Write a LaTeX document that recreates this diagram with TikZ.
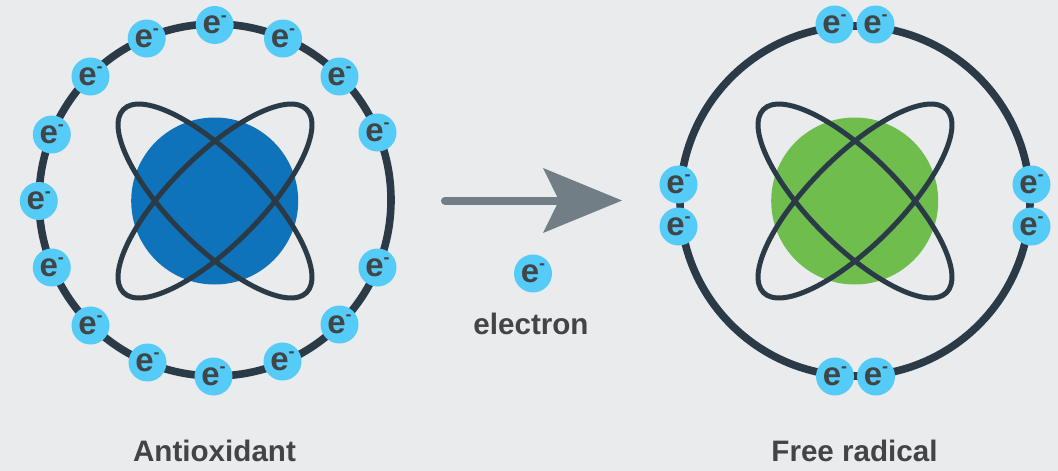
\documentclass[tikz,border=0pt]{standalone}
\usepackage{fontspec}
\setmainfont{Liberation Sans}
\definecolor{bgc}{HTML}{E9EBED}
\definecolor{ringc}{HTML}{2A3B47}
\definecolor{elc}{HTML}{55CBF7}
\definecolor{txtc}{HTML}{424548}
\definecolor{bluec}{HTML}{0F73BC}
\definecolor{greenc}{HTML}{6FBE4D}
\definecolor{arrc}{HTML}{717E85}
\tikzset{
  elec/.style={circle,fill=elc,draw=none,minimum size=38pt,inner sep=0pt,text=txtc,font=\fontsize{33}{33}\selectfont\bfseries},
  ring/.style={draw=ringc,line width=7.6pt},
  orbit/.style={draw=ringc,line width=5pt},
  nucleus/.style={circle,draw=none,minimum size=167pt,inner sep=0pt},
  captext/.style={text=txtc,font=\fontsize{29.6}{30}\selectfont\bfseries,inner sep=0pt}
}
\newcommand{\el}{e\smash{\raisebox{12.4pt}{\fontsize{18}{18}\selectfont -}}}
\begin{document}
\begin{tikzpicture}[x=1pt,y=-1pt]
\useasboundingbox (0,0) rectangle (1058,471);
\fill[bgc] (0,0) rectangle (1058,471);
% left atom
\node[nucleus,fill=bluec] (nl) at (214.7,201) {};
\draw[ring] (215,200) circle (176);
\draw[orbit,rotate around={45:(215,201)}] (215,201) ellipse (129.5 and 45);
\draw[orbit,rotate around={-45:(215,201)}] (215,201) ellipse (129.5 and 45);
\foreach \n/\x/\y in {a/214.7/25,b/146.7/38.5,c/90.5/76.5,d/51.8/134.5,e/38.8/201,f/51.8/267.5,g/90.5/325.5,h/147.5/362.5,i/213.5/376.5,j/282.5/361.5,k/339.5/324.5,l/377.5/267.5,m/377.5/132.5,o/339.5/76.5,p/283/38.5}
  \node[elec] (l\n) at (\x,\y) {\el};
% right atom
\node[nucleus,fill=greenc] (nr) at (854.7,201) {};
\draw[ring] (855,201) circle (175);
\draw[orbit,rotate around={45:(855,201)}] (855,201) ellipse (129.5 and 45);
\draw[orbit,rotate around={-45:(855,201)}] (855,201) ellipse (129.5 and 45);
\foreach \n/\x/\y in {a/834.5/24.5,b/875.5/24.5,c/678.5/184.5,d/678.5/226.5,e/1031.5/184.5,f/1031.5/226.5,g/835/376.5,h/876/376.5}
  \node[elec] (r\n) at (\x,\y) {\el};
% arrow
\coordinate (as) at (445,200.5);
\coordinate (ae) at (565,200.5);
\draw[arrc,line width=8pt,line cap=round] (as) -- (ae);
\fill[arrc] (622,200.5) -- (543,168) -- (559,200.5) -- (543,233) -- cycle;
% electron legend
\node[elec] (le) at (533,273.5) {\el};
\node[captext] (t1) at (531,324) {electron};
\node[captext] (t2) at (214.5,451) {Antioxidant};
\node[captext] (t3) at (854.5,451) {Free radical};
\end{tikzpicture}
\end{document}
